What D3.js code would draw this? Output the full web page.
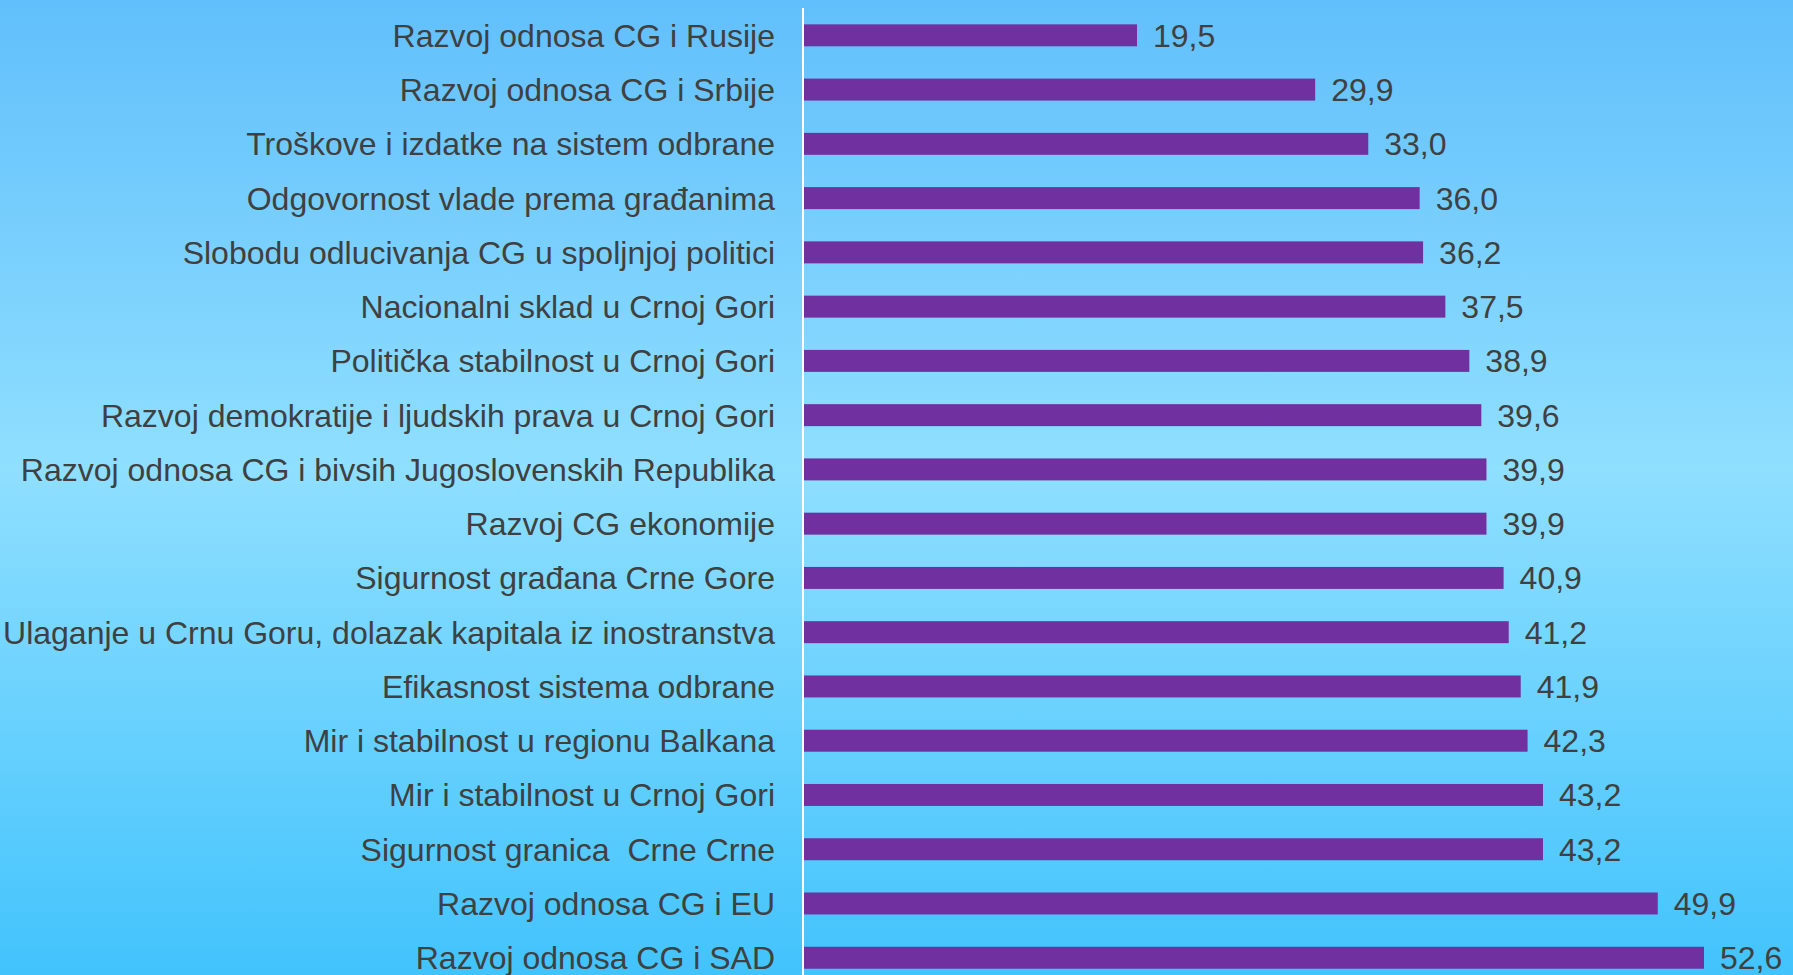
<!DOCTYPE html>
<html>
<head>
<meta charset="utf-8">
<script src="https://cdn.jsdelivr.net/npm/d3@7"></script>
<style>
  html, body { margin: 0; padding: 0; overflow: hidden; }
  text { font-family: "Liberation Sans", Arial, sans-serif; fill: #404040; white-space: pre; }
</style>
</head>
<body>
<svg id="chart"></svg>
<script>
const categories = [
  "Razvoj odnosa CG i Rusije",
  "Razvoj odnosa CG i Srbije",
  "Troškove i izdatke na sistem odbrane",
  "Odgovornost vlade prema građanima",
  "Slobodu odlucivanja CG u spoljnjoj politici",
  "Nacionalni sklad u Crnoj Gori",
  "Politička stabilnost u Crnoj Gori",
  "Razvoj demokratije i ljudskih prava u Crnoj Gori",
  "Razvoj odnosa CG i bivsih Jugoslovenskih Republika",
  "Razvoj CG ekonomije",
  "Sigurnost građana Crne Gore",
  "Ulaganje u Crnu Goru, dolazak kapitala iz inostranstva",
  "Efikasnost sistema odbrane",
  "Mir i stabilnost u regionu Balkana",
  "Mir i stabilnost u Crnoj Gori",
  "Sigurnost granica  Crne Crne",
  "Razvoj odnosa CG i EU",
  "Razvoj odnosa CG i SAD"
];
const values = [19.5, 29.9, 33.0, 36.0, 36.2, 37.5, 38.9, 39.6, 39.9, 39.9, 40.9, 41.2, 41.9, 42.3, 43.2, 43.2, 49.9, 52.6];

const width = 1793, height = 975;
const axisX = 803;

const svg = d3.select("#chart")
    .attr("width", width)
    .attr("height", height);

const defs = svg.append("defs");
const grad = defs.append("linearGradient")
    .attr("id", "bg")
    .attr("x1", 0).attr("y1", 0).attr("x2", 0).attr("y2", 1);
grad.append("stop").attr("offset", "0%").attr("stop-color", "#61bffb");
grad.append("stop").attr("offset", "48%").attr("stop-color", "#8fdfff");
grad.append("stop").attr("offset", "100%").attr("stop-color", "#42c3fc");

svg.append("rect")
    .attr("width", width)
    .attr("height", height)
    .attr("fill", "url(#bg)");

const y = d3.scaleBand()
    .domain(categories)
    .range([8.2, 8.2 + 54.26 * categories.length])
    .paddingInner(0.595)
    .paddingOuter(0.2975);

const x = d3.scaleLinear()
    .domain([0, 52.6])
    .range([axisX, 1704]);

const bar = svg.selectAll("g.bar")
    .data(categories.map((c, i) => ({ c, v: values[i] })))
  .enter().append("g")
    .attr("class", "bar");

bar.append("rect")
    .attr("x", x(0))
    .attr("y", d => y(d.c))
    .attr("width", d => x(d.v) - x(0))
    .attr("height", y.bandwidth())
    .attr("fill", "#7030a0");

bar.append("text")
    .attr("x", d => x(d.v) + 16)
    .attr("y", d => y(d.c) + y.bandwidth() / 2)
    .attr("dy", ".36em")
    .style("font-size", "32px")
    .text(d => d.v.toFixed(1).replace(".", ","));

bar.append("text")
    .attr("x", axisX - 28)
    .attr("y", d => y(d.c) + y.bandwidth() / 2)
    .attr("dy", ".36em")
    .attr("text-anchor", "end")
    .style("font-size", "32px")
    .text(d => d.c);

// vertical axis line
svg.append("line")
    .attr("x1", axisX).attr("x2", axisX)
    .attr("y1", 8).attr("y2", height)
    .attr("stroke", "#ffffff")
    .attr("stroke-width", 2);
</script>
</body>
</html>
